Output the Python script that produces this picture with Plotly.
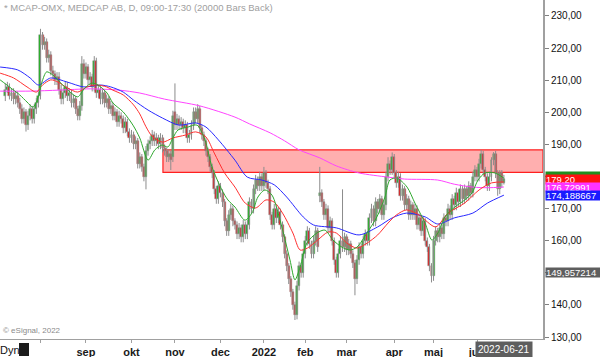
import pandas as pd
import plotly.graph_objects as go

# ---------------- data ----------------
opens = [
    205, 207, 208, 205, 206, 204, 205, 203, 201, 198,
    200, 196, 199, 201, 198, 201, 203, 205, 224, 221,
    222, 217, 218, 213, 212, 210, 211, 207, 204, 206,
    208, 205, 206, 203, 204, 201, 199, 202, 215, 212,
    214, 210, 211, 208, 216, 206, 207, 204, 206, 203,
    204, 201, 202, 199, 200, 197, 199, 198, 195, 197,
    194, 192, 193, 190, 191, 184, 186, 183, 180, 188,
    190, 191, 193, 191, 192, 190, 192, 189, 188, 186,
    187, 186, 200, 196, 198, 196, 197, 195, 196, 192,
    193, 196, 200, 198, 201, 195, 193, 191, 188, 186,
    183, 181, 176, 173, 177, 175, 172, 166, 163, 168,
    170, 166, 165, 162, 164, 161, 165, 162, 165, 172,
    170, 176, 179, 177, 180, 177, 181, 178, 176, 168,
    165, 170, 167, 169, 165, 161, 156, 152, 148, 144,
    140, 137, 146, 152, 150, 156, 160, 163, 159, 156,
    160, 163, 174, 175, 172, 168, 170, 164, 166, 160,
    154, 150, 156, 160, 158, 161, 157, 159, 156, 153,
    148, 154, 158, 156, 160, 162, 160, 167, 170, 166,
    172, 170, 173, 168, 171, 180, 184, 182, 186, 181,
    178, 180, 174, 176, 171, 173, 168, 171, 168, 170,
    165, 167, 163, 166, 160, 158, 152, 149, 160, 163,
    161, 164, 162, 167, 166, 170, 168, 173, 171, 175,
    172, 176, 173, 176, 174, 177, 175, 180, 182, 180,
    184, 187, 182, 180, 177, 180, 185, 187, 181, 176,
    181, 178,
]
highs = [
    209, 209.5, 209, 207.5, 207.5, 206.5, 206.5, 204.5, 202.5, 201.5,
    201, 200.5, 202.5, 202, 202.5, 204.5, 206.5, 226, 225, 223.5,
    223, 219.5, 219, 214.5, 213, 212.5, 212.5, 208.5, 207.5, 209.5,
    209.5, 207.5, 207, 205.5, 205, 202, 203.5, 217.5, 216.5, 215.5,
    215, 212.5, 212, 217.5, 217, 208.5, 208, 207.5, 207, 205.5,
    205, 203.5, 203, 201.5, 201, 200.5, 200, 199, 198.5, 198,
    195, 194.5, 194, 192.5, 192, 187.5, 187, 184, 189.5, 191.5,
    192.5, 194.5, 194, 193.5, 193, 193.5, 193, 190, 189, 188.5,
    188, 200.5, 209, 199.5, 199, 198.5, 198, 197.5, 197, 194.5,
    197.5, 201.5, 201.5, 202.5, 202, 196, 194, 192, 189, 187,
    184, 182, 177, 178.5, 178, 176, 173, 167, 169.5, 171.5,
    171, 167, 166, 165.5, 165, 166.5, 166, 166.5, 173.5, 173,
    177.5, 180.5, 180, 181.5, 181, 183, 182, 179, 177, 169,
    171.5, 171, 170.5, 170, 166, 162, 157, 153, 149, 145,
    141, 147.5, 153.5, 153, 157.5, 161.5, 164.5, 164, 160, 161.5,
    164.5, 164, 183, 176, 173, 171.5, 171, 167.5, 167, 161,
    155, 157.5, 161.5, 176, 162.5, 162, 160.5, 160, 157, 154,
    155.5, 159.5, 159, 161.5, 163.5, 163, 168.5, 171.5, 171, 173.5,
    173, 174.5, 174, 172.5, 181.5, 186, 185, 187.5, 187, 182,
    181.5, 181, 177.5, 177, 174.5, 174, 172.5, 172, 171.5, 171,
    168.5, 168, 167.5, 167, 161, 159, 153, 161.5, 164.5, 164,
    165.5, 165, 168.5, 168, 171.5, 171, 174.5, 174, 176.5, 176,
    177.5, 177, 177.5, 177, 178.5, 178, 181.5, 183.5, 183, 185.5,
    188.3, 188, 183, 181, 181.5, 186, 187.6, 188, 182, 182,
    182, 180.5,
]
lows = [
    203.5, 206, 204, 203.5, 202.5, 202.5, 201.5, 199.5, 196.5, 196.5,
    194, 194.5, 197.5, 196.5, 196.5, 199.5, 201.5, 204, 219.5, 219.5,
    215.5, 215.5, 211.5, 210.5, 208.5, 208.5, 205.5, 202.5, 202.5, 204.5,
    203.5, 203.5, 201.5, 201.5, 199.5, 197.5, 197.5, 200.5, 210.5, 210.5,
    208.5, 208.5, 206.5, 206.5, 204.5, 204.5, 202.5, 202.5, 201.5, 201.5,
    199.5, 199.5, 197.5, 197.5, 195.5, 195.5, 196.5, 193.5, 193.5, 192.5,
    190.5, 190.5, 188.5, 188.5, 182.5, 182.5, 181.5, 178.5, 176, 186.5,
    188.5, 189.5, 189.5, 189.5, 188.5, 188.5, 187.5, 186.5, 184.5, 184.5,
    182, 184.5, 194.5, 194.5, 194.5, 194.5, 193.5, 193.5, 190.5, 190.5,
    191.5, 194.5, 196.5, 196.5, 193.5, 191.5, 189.5, 186.5, 184.5, 181.5,
    179.5, 174.5, 171.5, 171.5, 173.5, 170.5, 164.5, 161.5, 161.5, 166.5,
    164.5, 163.5, 160.5, 160.5, 159.5, 159.5, 160.5, 160.5, 163.5, 168.5,
    168.5, 174.5, 175.5, 175.5, 175.5, 175.5, 176.5, 174.5, 166.5, 163.5,
    163.5, 165.5, 165.5, 163.5, 159.5, 154.5, 150.5, 146.5, 142.5, 138.5,
    135.3, 135.5, 144.5, 148.5, 148.5, 154.5, 158.5, 157.5, 154.5, 154.5,
    158.5, 156.5, 172, 170.5, 166.5, 166.5, 162.5, 162.5, 158.5, 152.5,
    148.5, 148.5, 154.5, 156.5, 156.5, 155.5, 155.5, 154.5, 151.5, 143,
    146.5, 152.5, 154.5, 154.5, 158.5, 158.5, 158.5, 165.5, 164.5, 164.5,
    168.5, 168.5, 166.5, 166.5, 169.5, 178.5, 180.5, 180.5, 179.5, 176.5,
    176.5, 172.5, 172.5, 169.5, 169.5, 166.5, 166.5, 166.5, 166.5, 163.5,
    163.5, 161.5, 161.5, 158.5, 156.5, 150.5, 147, 147.5, 158.5, 159.5,
    159.5, 160.5, 160.5, 164.5, 164.5, 166.5, 166.5, 169.5, 169.5, 170.5,
    170.5, 171.5, 171.5, 172.5, 172.5, 173.5, 173.5, 178.5, 178.5, 178.5,
    182.5, 180.5, 178.5, 175.5, 175.5, 178.5, 183.5, 179.5, 174, 174.5,
    176.5, 177.5,
]
closes = [
    207, 208, 205, 206, 204, 205, 203, 201, 198, 200,
    196, 199, 201, 198, 201, 203, 205, 224, 221, 222,
    217, 218, 213, 212, 210, 211, 207, 204, 206, 208,
    205, 206, 203, 204, 201, 199, 202, 215, 212, 214,
    210, 211, 208, 216, 206, 207, 204, 206, 203, 204,
    201, 202, 199, 200, 197, 199, 198, 195, 197, 194,
    192, 193, 190, 191, 184, 186, 183, 180, 188, 190,
    191, 193, 191, 192, 190, 192, 189, 188, 186, 187,
    185, 199, 196, 198, 196, 197, 195, 196, 192, 193,
    196, 200, 198, 201, 195, 193, 191, 188, 186, 183,
    181, 176, 173, 177, 175, 172, 166, 163, 168, 170,
    166, 165, 162, 164, 161, 165, 162, 165, 172, 170,
    176, 179, 177, 180, 177, 181, 178, 176, 168, 165,
    170, 167, 169, 165, 161, 156, 152, 148, 144, 140,
    137, 146, 152, 150, 156, 160, 163, 159, 156, 160,
    163, 158, 175, 172, 168, 170, 164, 166, 160, 154,
    150, 156, 160, 158, 161, 157, 159, 156, 153, 148,
    154, 158, 156, 160, 162, 160, 167, 170, 166, 172,
    170, 173, 168, 171, 180, 184, 182, 186, 181, 178,
    180, 174, 176, 171, 173, 168, 171, 168, 170, 165,
    167, 163, 166, 160, 158, 152, 149, 160, 163, 161,
    164, 162, 167, 166, 170, 168, 173, 171, 175, 172,
    176, 173, 176, 174, 177, 175, 180, 182, 180, 184,
    187, 182, 180, 177, 180, 185, 187, 181, 176, 181,
    178, 179.2,
]

# moving averages read at sample bars (bar index, value)
ma_green_idx = [-2.5, 2, 7, 10.5, 13.4, 15.8, 17.7, 20, 23, 26.4, 31.3, 35, 38.5, 41.9, 44.8, 49.2, 52, 57,
                61.7, 65, 69, 72.3, 75.7, 78.6, 81, 83.5, 88.3, 92.7, 96.5, 99.9, 104.7, 107.6, 111, 115.8,
                119.2, 122.1, 125.5, 128.9, 132.8, 137.6, 140, 142.5, 145.8, 150.6, 154.5, 158.4, 162.7,
                166.6, 170, 174.8, 179.6, 183.5, 185.9, 189.3, 194.2, 198, 202.9, 206.2, 209.1, 212.5,
                217.3, 222.1, 225.6, 228.5, 231.9, 236.7, 241]
ma_green_val = [210.1, 207.9, 205.4, 203.2, 201.6, 204.5, 209.4, 212.6, 211.6, 209.4, 206.3, 204.8, 207.6,
                209.1, 208.5, 206.0, 202.9, 200.1, 196.0, 192.0, 185.1, 188.3, 189.8, 189.2, 192.0, 194.5,
                195.4, 196.0, 191.4, 183.0, 175.8, 172.7, 170.5, 166.4, 168.6, 173.6, 175.8, 174.2, 166.4,
                154.0, 147.8, 151.8, 159.3, 162.4, 163.3, 160.2, 158.0, 157.1, 158.0, 162.4, 167.4, 173.6,
                178.9, 179.5, 176.7, 171.7, 165.5, 160.2, 162.4, 167.4, 170.5, 172.7, 174.9, 178.9, 181.1,
                181.1, 179.5]

ma_red_idx = [-2.5, 4, 10.5, 15, 18, 22, 25.5, 30, 35, 39.5, 44, 49, 52, 57, 62, 65, 68, 71, 76, 81, 87, 92,
              97, 101, 106, 111, 116, 121, 126, 130, 134, 139, 142.5, 146, 151, 156, 160, 165, 170, 175,
              180, 185, 189, 194, 200, 208, 214, 222, 229, 235, 241]
ma_red_val = [212.2, 210.7, 207.9, 206.3, 208.5, 210.1, 209.4, 207.6, 206.3, 207.9, 208.5, 207.9, 206.9,
              205.4, 202.3, 199.5, 195.5, 192.5, 190.7, 192.0, 192.9, 193.9, 192.3, 187.3, 181.1, 176.7,
              171.7, 170.2, 172.7, 172.0, 168.6, 162.4, 157.1, 157.7, 160.2, 162.7, 162.4, 159.3, 157.7,
              159.3, 161.8, 165.5, 168.0, 169.6, 168.0, 164.3, 168.6, 171.7, 175.8, 178.0, 178.3]

ma_blue_idx = [-2.5, 6, 12, 16, 22, 30, 38, 46, 51, 57, 62, 69, 76, 84, 92, 97, 103, 111, 117, 124, 130,
               136, 144, 149, 160, 171, 180, 187, 194, 203, 209, 217, 226, 233, 241]
ma_blue_val = [214.1, 213.2, 210.7, 208.5, 210.7, 209.4, 207.9, 208.5, 207.9, 206.3, 203.8, 200.7, 198.2,
               196.0, 196.7, 195.4, 191.4, 185.1, 179.8, 178.9, 177.4, 173.6, 167.4, 164.9, 164.0, 161.8,
               164.3, 167.1, 168.6, 167.4, 165.2, 167.1, 168.6, 171.7, 174.188667]

ma_magenta_idx = [-2.5, 12, 26, 41, 55, 65, 77, 94, 111, 118, 128, 135, 142, 152, 160, 171, 185, 193, 209,
                  217, 226, 233, 241]
ma_magenta_val = [206.6, 206.6, 206.9, 207.3, 206.9, 206.0, 204.1, 202.0, 198.5, 196.4, 193.6, 191.1,
                  188.3, 185.8, 183.3, 181.1, 179.8, 179.2, 178.9, 177.6, 176.7, 176.5, 176.72991]

zone_start_idx = 76.2
zone_low = 181.3
zone_high = 188.3

y_ticks = [130, 140, 150, 160, 170, 180, 190, 200, 210, 220, 230]
y_tick_text = ['130,00', '140,00', '', '160,00', '170,00', '', '190,00', '200,00', '210,00',
               '220,00', '230,00']

month_names = {8: '', 9: 'sep', 10: 'okt', 11: 'nov', 12: 'dec', 1: '2022', 2: 'feb', 3: 'mar',
               4: 'apr', 5: 'maj', 6: 'jun'}

price_labels = [179.20, 176.72991, 174.188667, 149.957214]
price_label_text = ['179,20', '176,72991', '174,188667', '149,957214']
price_label_colors = ['#ff1010', '#ff33ff', '#1a1aff', '#5e5e5e']

# ---------------- calendar ----------------
holidays = ['2021-12-24', '2021-12-31', '2022-01-06', '2022-04-15', '2022-04-18', '2022-05-26', '2022-06-06']
dates = [d for d in pd.bdate_range('2021-07-08', '2022-06-21') if d.strftime('%Y-%m-%d') not in holidays]
n = len(closes)
dates = dates[:n]
xs = list(range(n))

tick_vals, tick_text = [], []
for i in range(1, n):
    if dates[i].month != dates[i - 1].month:
        tick_vals.append(i)
        tick_text.append(month_names[dates[i].month])

FONT = 'Liberation Sans, Arial, sans-serif'
X_MIN, X_MAX = -2.56, 259.9
Y_MIN, Y_MAX = 129.38, 234.98

fig = go.Figure()

# resistance zone
fig.add_shape(type='rect', xref='x', yref='y', x0=zone_start_idx, x1=X_MAX, y0=zone_low, y1=zone_high,
              fillcolor='rgba(255,110,110,0.55)', line=dict(color='#ff2020', width=1.2), layer='below')

# wicks
wick_x, wick_y = [], []
for i in xs:
    wick_x += [i, i, None]
    wick_y += [lows[i], highs[i], None]
fig.add_trace(go.Scatter(x=wick_x, y=wick_y, mode='lines', line=dict(color='#8c8c8c', width=1),
                         showlegend=False, hoverinfo='skip'))

# bodies
body_base = [min(o, c) for o, c in zip(opens, closes)]
body_len = [max(abs(c - o), 0.35) for o, c in zip(opens, closes)]
body_col = ['#1fb41f' if c >= o else '#e01b1b' for o, c in zip(opens, closes)]
fig.add_trace(go.Bar(x=xs, y=body_len, base=body_base, width=0.95,
                     marker=dict(color=body_col, line=dict(color='#8c8c8c', width=0.5)),
                     showlegend=False, hoverinfo='skip'))

for idx, val, col in [(ma_magenta_idx, ma_magenta_val, '#ff44ff'),
                      (ma_blue_idx, ma_blue_val, '#2a2aff'),
                      (ma_red_idx, ma_red_val, '#ff3030'),
                      (ma_green_idx, ma_green_val, '#2ea82e')]:
    fig.add_trace(go.Scatter(x=idx, y=val, mode='lines',
                             line=dict(color=col, width=1, shape='spline', smoothing=0.8),
                             showlegend=False, hoverinfo='skip'))

annotations = []
annotations.append(dict(xref='paper', yref='paper', x=0.004, y=0.999, xanchor='left', yanchor='top',
                        text='* MCAP-OMX, MEDCAP AB, D, 09:00-17:30 (20000 Bars Back)', showarrow=False,
                        font=dict(family=FONT, size=9.5, color='#a0a0a0')))
annotations.append(dict(xref='paper', yref='paper', x=0.002, y=0.006, xanchor='left', yanchor='bottom',
                        text='© eSignal, 2022', showarrow=False,
                        font=dict(family=FONT, size=8, color='#8a8a8a')))
annotations.append(dict(xref='paper', yref='paper', x=0, xshift=-2, y=-0.031, xanchor='left',
                        yanchor='middle', text='Dyn', showarrow=False,
                        font=dict(family=FONT, size=11, color='#111')))
# green marker behind red label
annotations.append(dict(xref='paper', yref='y', x=1, xshift=2, y=price_labels[0], yshift=3,
                        xanchor='left', yanchor='middle', text='&nbsp;', showarrow=False, width=56,
                        height=9, bgcolor='#1f8f1f', borderpad=0, font=dict(family=FONT, size=9)))
for val, txt, col in zip(price_labels, price_label_text, price_label_colors):
    annotations.append(dict(xref='paper', yref='y', x=1, xshift=2, y=val, xanchor='left',
                            yanchor='middle', text=txt, showarrow=False, width=56, height=9,
                            align='left', bgcolor=col, borderpad=0,
                            font=dict(family=FONT, size=9.5, color='white')))
annotations.append(dict(xref='x', yref='paper', x=n - 1, y=-0.03, xanchor='center', yanchor='middle',
                        text='2022-06-21', showarrow=False, bgcolor='#5e5e5e', borderpad=2,
                        font=dict(family=FONT, size=10, color='white')))

fig.add_shape(type='rect', xref='paper', yref='paper', x0=19 / 543, x1=29 / 543,
              y0=(339 - 356) / 339, y1=(339 - 343) / 339, fillcolor='#1c1c1c',
              line=dict(color='#1c1c1c', width=0))

fig.update_layout(
    width=600, height=357,
    margin=dict(l=0, r=57, t=0, b=18),
    paper_bgcolor='white', plot_bgcolor='white',
    showlegend=False, barmode='overlay', bargap=0,
    annotations=annotations,
    xaxis=dict(range=[X_MIN, X_MAX], tickmode='array', tickvals=tick_vals, ticktext=tick_text,
               showgrid=False, zeroline=False, showline=True, linecolor='#a0a0a0', linewidth=1,
               ticks='outside', ticklen=3, tickcolor='#a0a0a0',
               tickfont=dict(family=FONT, size=11, color='#1a1a1a', weight='bold'),
               fixedrange=True),
    yaxis=dict(range=[Y_MIN, Y_MAX], side='right', tickmode='array', tickvals=y_ticks,
               ticktext=y_tick_text, showgrid=False, zeroline=False, showline=True,
               linecolor='#a0a0a0', linewidth=2, ticks='outside', ticklen=4, tickcolor='#808080',
               tickfont=dict(family=FONT, size=10, color='#111')),
)

fig.write_html('out.html', config={'displayModeBar': False},
               post_script="document.body.style.margin='0';document.body.style.padding='0';")
